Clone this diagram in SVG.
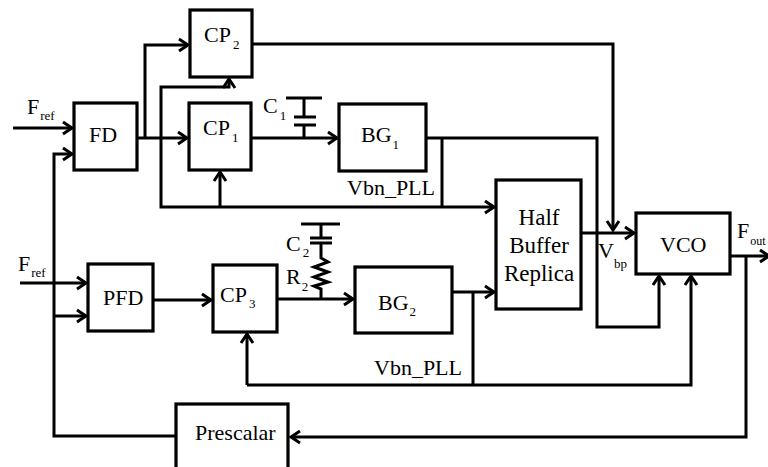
<svg xmlns="http://www.w3.org/2000/svg" width="768" height="467" viewBox="0 0 768 467">
<defs>
<marker id="ah" markerUnits="userSpaceOnUse" markerWidth="20" markerHeight="20" viewBox="-12 -10 16 20" refX="0" refY="0" orient="auto">
<path d="M-9,-6 L0,0 L-9,6" fill="none" stroke="#000" stroke-width="3" stroke-linejoin="miter"/>
</marker>
</defs>
<style>
.box{fill:#fff;stroke:#000;stroke-width:3.2}
.w{fill:none;stroke:#000;stroke-width:3}
.a{fill:none;stroke:#000;stroke-width:3;marker-end:url(#ah)}
.t{font-family:"Liberation Serif","Times New Roman",serif;font-size:22px;fill:#000}
.s{font-size:13px}
</style>
<rect width="768" height="467" fill="#fff"/>
<g id="connectors">
<path class="a" d="M13,128 H72"/>
<path class="a" d="M176,436 H54 V154 H72"/>
<path class="a" d="M54,316 H86"/>
<path class="a" d="M20,283 H86"/>
<path class="a" d="M137,138 H187"/>
<path class="a" d="M145,138 V45 H188"/>
<path class="a" d="M161,138 V207 H494"/>
<path class="a" d="M161,138 V87 H229 V79"/>
<path class="a" d="M220,207 V172"/>
<path class="a" d="M252,44 H613 V230"/>
<path class="a" d="M251,138 H337"/>
<path class="w" d="M304,138 V125 M294,125 H316 M294,117 H316 M304,117 V98 M286,98 H322"/>
<path class="a" d="M426,138 H597 V327 H659 V276"/>
<path class="w" d="M442,138 V207"/>
<path class="a" d="M581,233 H634"/>
<path class="a" d="M730,256 H769"/>
<path class="a" d="M746,256 V437 H291"/>
<path class="a" d="M153,300 H211"/>
<path class="a" d="M277,299 H353"/>
<path class="w" d="M321,299 V289 L314,286 L328,282 L314,277 L328,272 L314,267 L328,262 L321,258 V243 M310,243 H332 M310,238 H332 M321,238 V224 M301,224 H340"/>
<path class="a" d="M452,292 H494"/>
<path class="w" d="M473,292 V385"/>
<path class="a" d="M247,385 H691 V276"/>
<path class="a" d="M247,385 V334"/>
</g>
<g id="FD"><rect class="box" x="74" y="103" width="63" height="67"/><text class="t" x="89" y="142">FD</text></g>
<g id="CP2"><rect class="box" x="190" y="10" width="62" height="67"/><text class="t" x="204" y="42">CP<tspan class="s" dx="2" dy="7">2</tspan></text></g>
<g id="CP1"><rect class="box" x="189" y="103" width="62" height="67"/><text class="t" x="203" y="135">CP<tspan class="s" dx="2" dy="7">1</tspan></text></g>
<g id="BG1"><rect class="box" x="339" y="104" width="87" height="67"/><text class="t" x="361" y="142">BG<tspan class="s" dx="1" dy="7">1</tspan></text></g>
<g id="HBR"><rect class="box" x="496" y="180" width="85" height="129"/>
<text class="t" text-anchor="middle" style="font-size:23px" x="539" y="225">Half</text>
<text class="t" text-anchor="middle" style="font-size:23px" x="539" y="253">Buffer</text>
<text class="t" text-anchor="middle" style="font-size:23px" x="539" y="281">Replica</text></g>
<g id="VCO"><rect class="box" x="636" y="213" width="94" height="61"/><text class="t" x="660" y="252">VCO</text></g>
<g id="PFD"><rect class="box" x="88" y="264" width="65" height="67"/><text class="t" x="103" y="305">PFD</text></g>
<g id="CP3"><rect class="box" x="213" y="265" width="64" height="67"/><text class="t" x="220" y="302">CP<tspan class="s" dx="2" dy="6">3</tspan></text></g>
<g id="BG2"><rect class="box" x="355" y="267" width="97" height="66"/><text class="t" x="378" y="310">BG<tspan class="s" dx="1" dy="6">2</tspan></text></g>
<g id="Prescalar"><rect class="box" x="176" y="404" width="112" height="75"/><text class="t" x="195" y="440">Prescalar</text></g>
<g id="labels">
<text class="t" x="27" y="114">F<tspan class="s" dx="1" dy="6">ref</tspan></text>
<text class="t" x="18" y="271">F<tspan class="s" dx="1" dy="6">ref</tspan></text>
<text class="t" x="263" y="113">C<tspan class="s" dx="2" dy="7">1</tspan></text>
<text class="t" x="286" y="251">C<tspan class="s" dx="2" dy="6">2</tspan></text>
<text class="t" x="286" y="284">R<tspan class="s" dx="1" dy="7">2</tspan></text>
<text class="t" x="347" y="195">Vbn_PLL</text>
<text class="t" x="374" y="375">Vbn_PLL</text>
<text class="t" x="598" y="258">V<tspan class="s" dx="0" dy="10">bp</tspan></text>
<text class="t" x="737" y="238">F<tspan class="s" style="font-size:12px" dx="1" dy="7">out</tspan></text>
</g>
</svg>
